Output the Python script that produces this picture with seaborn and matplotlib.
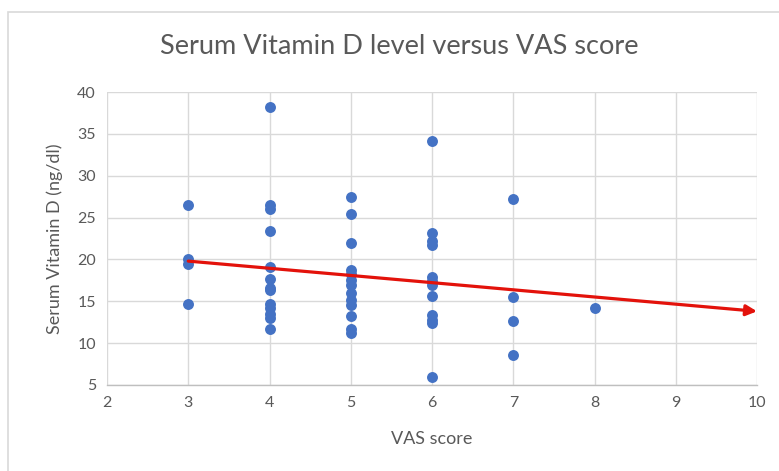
import matplotlib
matplotlib.use("Agg")
import matplotlib.pyplot as plt
import seaborn as sns
import pandas as pd
from matplotlib.patches import Rectangle

# ---- data ----
vas_3 = [26.5, 20.0, 19.5, 14.7]
vas_4 = [38.2, 26.5, 26.0, 23.4, 19.1, 17.7, 16.6, 16.3, 14.7, 14.2, 13.5, 13.0, 11.7]
vas_5 = [27.5, 25.4, 22.0, 18.7, 18.2, 17.6, 17.0, 16.0, 15.2, 14.6, 13.3, 11.7, 11.2]
vas_6 = [34.1, 23.2, 22.2, 21.7, 17.9, 17.4, 16.9, 15.6, 13.4, 12.8, 12.4, 6.0]
vas_7 = [27.2, 15.5, 12.6, 8.6]
vas_8 = [14.2]
groups = {3: vas_3, 4: vas_4, 5: vas_5, 6: vas_6, 7: vas_7, 8: vas_8}

trend_x = [3, 10]
trend_y = [19.8, 13.8]

title = "Serum Vitamin D level versus VAS score"
xlabel = "VAS score"
ylabel = "Serum Vitamin D (ng/dl)"
xticks = [2, 3, 4, 5, 6, 7, 8, 9, 10]
yticks = [5, 10, 15, 20, 25, 30, 35, 40]

rows = [(x, v) for x, vals in groups.items() for v in vals]
df = pd.DataFrame(rows, columns=["VAS", "VitD"])

sns.set_theme(style="white")
plt.rcParams['font.family'] = ['Lato', 'DejaVu Sans']

text_col = "#595959"
grid_col = "#d9d9d9"

fig = plt.figure(figsize=(7.79, 4.71), dpi=100)
fig.patch.set_facecolor("white")
# chart border
fig.patches.append(Rectangle((8 / 779, -0.01), 1.0, 1 - 12 / 471 + 0.01,
                             transform=fig.transFigure, fill=False,
                             edgecolor="#d9d9d9", lw=1.2))

ax = fig.add_axes([107 / 779, 1 - 385 / 471, (757 - 107) / 779, (385 - 92) / 471])

sns.scatterplot(data=df, x="VAS", y="VitD", ax=ax, color="#4472C4", s=62,
                edgecolor="#4472C4", linewidth=0, zorder=3)

ax.annotate("", xy=(trend_x[1], trend_y[1]), xytext=(trend_x[0], trend_y[0]),
            arrowprops=dict(arrowstyle="-|>", color="#E3120B", lw=2.3,
                            mutation_scale=16, shrinkA=0, shrinkB=0),
            zorder=4)

ax.set_xlim(2, 10)
ax.set_ylim(5, 40)
ax.set_xticks(xticks)
ax.set_yticks(yticks)
ax.grid(True, color=grid_col, lw=1)
for s in ["top", "right", "left"]:
    ax.spines[s].set_visible(False)
ax.spines["bottom"].set_color("#bfbfbf")
ax.spines["bottom"].set_linewidth(1)
ax.tick_params(axis="both", length=0, labelsize=11.5, labelcolor=text_col, pad=8)

ax.set_xlabel(xlabel, fontsize=13, color=text_col, labelpad=15)
ax.set_ylabel(ylabel, fontsize=13, color=text_col, labelpad=10)
fig.text(0.512, 1 - 47 / 471, title, fontsize=19.5, color=text_col,
         ha="center", va="center")

fig.savefig("out.png", dpi=100, facecolor="white")
